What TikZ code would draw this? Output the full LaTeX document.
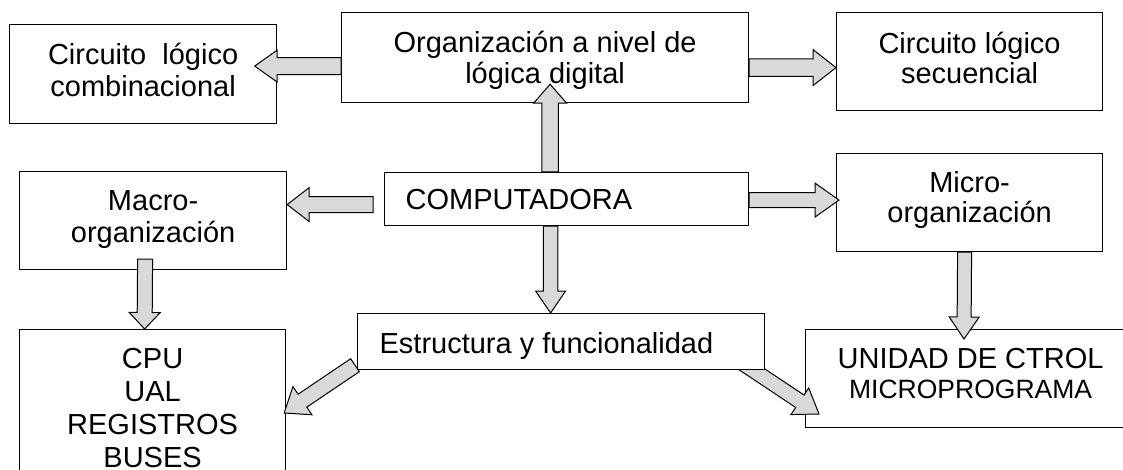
\documentclass[tikz,border=0pt]{standalone}
\usepackage{fontspec}
\setmainfont{Liberation Sans}
\usetikzlibrary{calc}
\definecolor{arrowgray}{RGB}{217,217,217}
\pgfdeclarelayer{fg}
\pgfsetlayers{main,fg}
% box text: width, height, first-baseline offset, text
\newcommand\boxtxt[4]{\parbox[c][#2pt][t]{#1pt}{\centering\rule{0pt}{#3pt}#4\par}}
% left aligned box text: width, height, first-baseline offset, text, left inset
\newcommand\boxtxtl[5]{\parbox[c][#2pt][t]{#1pt}{\raggedright\hspace*{#5pt}\rule{0pt}{#3pt}#4\par}}
% block arrow: start, tip, shaft half width, head half width, head length
\newcommand\fatarrow[5]{%
  \path (#1) coordinate (fa-s) (#2) coordinate (fa-e);
  \path ($(fa-e)!#5!(fa-s)$) coordinate (fa-b);
  \draw[fat] ($(fa-s)!#3!90:(fa-e)$) -- ($(fa-b)!#3!90:(fa-e)$) -- ($(fa-b)!#4!90:(fa-e)$)
    -- (fa-e) -- ($(fa-b)!#4!-90:(fa-e)$) -- ($(fa-b)!#3!-90:(fa-e)$)
    -- ($(fa-s)!#3!-90:(fa-e)$) -- cycle;}
\tikzset{
  box/.style={draw=black, line width=1.2pt, fill=white, inner sep=0pt, anchor=north west,
    font=\fontsize{29}{31.5}\selectfont},
  fat/.style={draw=black, line width=1pt, fill=arrowgray, line join=miter},
}
\begin{document}
\begin{tikzpicture}[x=1pt,y=-1pt]
\useasboundingbox (0,0) rectangle (1123,470);
\clip (0,0) rectangle (1123,470);
% boxes
\node[box] (comb) at (9,24) {\boxtxt{267}{99}{40}{Circuito~~lógico\\combinacional}};
\node[box] (org) at (341,12) {\boxtxt{407}{90}{39.7}{Organización a nivel de\\lógica digital}};
\node[box] (sec) at (836,12) {\boxtxt{266}{98}{41}{Circuito lógico\\[-1.5pt]secuencial}};
\node[box] (macro) at (19,171) {\boxtxt{267}{98}{39}{Macro-\\organización}};
\node[box] (comp) at (384,172) {\boxtxtl{364}{53}{37}{COMPUTADORA}{21}};
\node[box] (micro) at (836,153) {\boxtxt{266}{98}{39}{Micro-\\[-1.5pt]organización}};
\begin{pgfonlayer}{fg}
\node[box] (estr) at (357,313) {\boxtxtl{407}{56}{40}{Estructura y funcionalidad}{22}};
\end{pgfonlayer}
\node[box] (cpu) at (19,329) {\boxtxt{266}{161}{39}{\baselineskip=33pt CPU\\UAL\\REGISTROS\\BUSES}};
\node[box] (unidad) at (805,329) {\boxtxt{330}{98}{39}{UNIDAD DE CTROL\\[-1.5pt]{\fontsize{26.5}{30}\selectfont MICROPROGRAMA}}};
% block arrows
\fatarrow{$(org.west)+(0,8.5)$}{$(comb.east)+(-22.5,-8)$}{8.5pt}{16pt}{22.5pt}
\fatarrow{$(org.east)+(0,10)$}{$(sec.west)+(0,6)$}{8.7pt}{18pt}{23pt}
\fatarrow{$(comp.north)+(-16.5,0)$}{$(org.south)+(5,-19)$}{8.3pt}{16.5pt}{19pt}
\fatarrow{$(comp.south)+(-16,0)$}{$(estr.north)+(-10.5,0)$}{7.3pt}{15pt}{22pt}
\fatarrow{$(comp.west)+(-11,5.5)$}{$(macro.east)+(0,-16)$}{8pt}{17pt}{22pt}
\fatarrow{$(comp.east)+(0,1)$}{$(micro.west)+(3,-2.5)$}{7.5pt}{17pt}{24pt}
\fatarrow{$(macro.south)+(-8,-11)$}{$(cpu.north)+(-8,0)$}{7.5pt}{15.5pt}{16.5pt}
\fatarrow{$(micro.south)+(-5,0)$}{$(unidad.north west)+(159,10)$}{7pt}{15pt}{22pt}
\fatarrow{$(estr.south west)+(-2,-5)$}{$(cpu.north east)+(-2,84)$}{7.8pt}{17pt}{22pt}
\fatarrow{$(estr.south east)+(-24,-8)$}{$(unidad.north west)+(14,85)$}{7.5pt}{16pt}{23pt}
\end{tikzpicture}
\end{document}
